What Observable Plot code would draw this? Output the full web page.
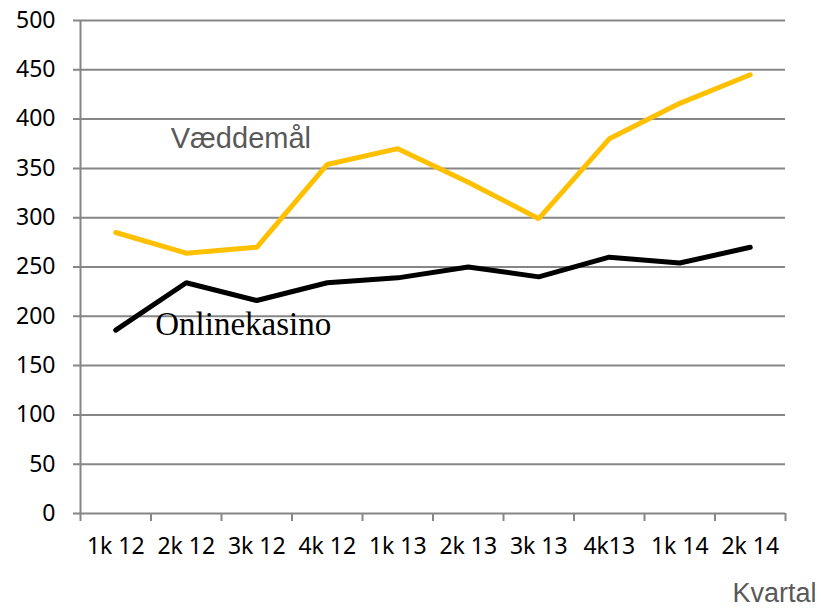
<!DOCTYPE html>
<html><head><meta charset="utf-8">
<script src="https://cdn.jsdelivr.net/npm/d3@7"></script>
<script src="https://cdn.jsdelivr.net/npm/@observablehq/plot@0.6"></script>
<style>body{margin:0;background:#fff}</style>
</head><body><div id="chart"></div>
<script>
const quarters = ["1k 12","2k 12","3k 12","4k 12","1k 13","2k 13","3k 13","4k13","1k 14","2k 14"];
const vaeddemaal = [285, 264, 270, 354, 370, 336, 299, 380, 416, 445];
const onlinekasino = [186, 234, 216, 234, 239, 250, 240, 260, 254, 270];
const yTicks = [0,50,100,150,200,250,300,350,400,450,500];

const rowsV = quarters.map((q,i)=>({x:i+0.5, y:vaeddemaal[i]}));
const rowsO = quarters.map((q,i)=>({x:i+0.5, y:onlinekasino[i]}));
const edges = d3.range(0, quarters.length+1);
const centers = quarters.map((q,i)=>i+0.5);

const grid = "#868686";
const chart = Plot.plot({
  width: 821, height: 610,
  marginLeft: 80, marginRight: 36, marginTop: 20, marginBottom: 97,
  style: {fontFamily: "'Noto Sans', sans-serif", background: "#fff", overflow: "visible"},
  x: {type: "linear", domain: [0, quarters.length], axis: null},
  y: {type: "linear", domain: [0, 500], axis: null},
  marks: [
    Plot.ruleY(yTicks, {y: d=>d, stroke: grid, strokeWidth: 2, insetLeft: -7}),
    Plot.ruleX([0], {stroke: grid, strokeWidth: 2}),
    Plot.axisY({ticks: yTicks, tickSize: 0, tickPadding: 25, fontSize: 23, fill: "#000", label: null}),
    Plot.axisX({ticks: edges, tickSize: 8, stroke: grid, strokeWidth: 2, tickFormat: () => "", label: null}),
    Plot.axisX({ticks: centers, tickSize: 0, tickPadding: 24, fontSize: 23, fill: "#000", tickFormat: (d)=>quarters[Math.floor(d)], label: null}),
    Plot.line(rowsV, {x: "x", y: "y", stroke: "#FFC000", strokeWidth: 5, strokeLinejoin: "miter", strokeLinecap: "round"}),
    Plot.line(rowsO, {x: "x", y: "y", stroke: "#000", strokeWidth: 5, strokeLinejoin: "miter", strokeLinecap: "round"}),
    Plot.text(["Væddemål"], {x: () => 1.28, y: () => 371, text: d=>d, textAnchor: "start", lineAnchor: "bottom", fontSize: 29, fill: "#595959", fontFamily: "'Liberation Sans', Arial, sans-serif"}),
    Plot.text(["Onlinekasino"], {x: () => 1.06, y: () => 181, text: d=>d, textAnchor: "start", lineAnchor: "bottom", fontSize: 33, fill: "#000", fontFamily: "'Liberation Serif', serif"}),
    Plot.text(["Kvartal"], {x: () => quarters.length, y: () => 0, text: d=>d, textAnchor: "end", lineAnchor: "bottom", dx: 31, dy: 88, fontSize: 27, fill: "#595959", fontFamily: "'Liberation Sans', Arial, sans-serif"})
  ]
});
document.getElementById("chart").append(chart);
</script></body></html>
